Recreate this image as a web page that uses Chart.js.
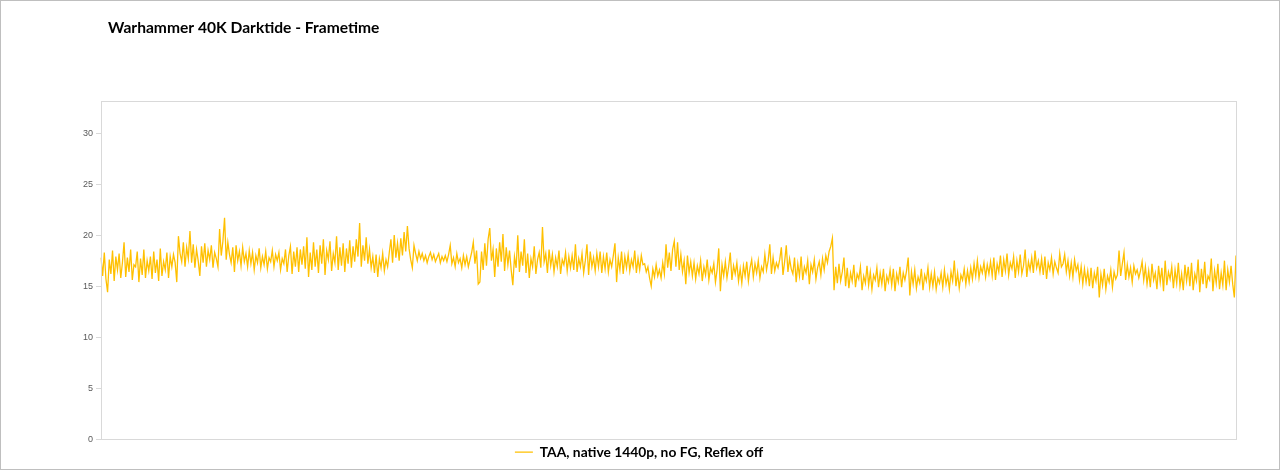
<!DOCTYPE html>
<html lang="en">
<head>
    <meta charset="UTF-8">
    <title>Warhammer 40K Darktide - Frametime</title>
    <style>
        html, body { margin: 0; padding: 0; background: #fff; }
        .frame { width: 1280px; height: 470px; box-sizing: border-box; border: 1px solid #bfbfbf; }
        .frame canvas { display: block; }
    </style>
</head>
<body>
<div class="frame">
    <canvas id="ft-chart" width="1278" height="468"></canvas>
</div>
<script src="https://cdn.jsdelivr.net/npm/chart.js"></script>
<script>
// frametime in ms (roughly one sample per 1.6 px)
const chartTitle = "Warhammer 40K Darktide - Frametime";
const seriesName = "TAA, native 1440p, no FG, Reflex off";
const yTicks = [0, 5, 10, 15, 20, 25, 30];
const frametimes = [
    17.8, 16.0, 18.3, 15.7, 14.4, 17.6, 16.2, 18.5, 15.5, 17.9, 16.6, 18.2, 15.8, 17.3, 19.3, 15.9, 17.8, 16.4, 18.6, 15.6, 17.1, 16.9, 18.4, 15.4, 17.7, 16.1, 18.6, 15.8, 17.5, 16.5,
    17.9, 15.7, 18.4, 16.3, 17.6, 15.5, 18.7, 16.0, 17.4, 16.6, 18.3, 15.8, 17.9, 16.9, 18.1, 17.3, 15.4, 19.9, 18.2, 17.4, 19.3, 16.9, 18.8, 17.7, 20.4, 17.3, 19.1, 16.8, 18.6, 17.5,
    16.0, 18.9, 17.3, 19.2, 16.9, 18.5, 17.6, 19.0, 16.8, 18.3, 17.7, 16.9, 20.6, 18.0, 19.4, 21.7, 17.6, 19.3, 18.1, 17.3, 18.8, 16.4, 19.0, 17.5, 18.4, 17.0, 18.8, 17.4, 18.2, 16.9,
    18.5, 17.2, 18.3, 16.6, 18.0, 17.3, 18.7, 16.8, 17.9, 17.1, 18.4, 16.7, 17.8, 17.4, 18.5, 16.9, 18.1, 17.5, 18.3, 16.6, 17.7, 17.2, 18.6, 16.4, 18.0, 18.9, 16.2, 18.4, 16.9, 18.8,
    16.4, 18.6, 17.1, 18.9, 16.7, 19.8, 15.9, 18.3, 16.6, 19.3, 16.9, 18.6, 16.3, 19.0, 17.2, 19.6, 16.1, 18.5, 17.6, 19.4, 16.5, 18.2, 17.3, 19.9, 16.6, 18.8, 17.0, 19.2, 16.4, 18.7,
    17.2, 19.5, 16.8, 18.9, 17.4, 19.6, 17.9, 21.2, 16.9, 19.0, 17.5, 19.8, 17.2, 18.6, 16.8, 17.9, 16.3, 18.1, 15.9, 17.7, 16.8, 18.2, 16.5, 17.6, 16.9, 18.3, 19.6, 17.3, 20.0, 17.8,
    19.2, 17.5, 19.7, 18.0, 20.3, 18.4, 20.9, 18.7, 17.6, 16.8, 19.0, 18.2, 17.5, 18.4, 17.7, 18.2, 17.5, 18.0, 17.3, 17.9, 18.3, 17.6, 18.1, 17.4, 17.8, 18.2, 17.3, 17.9, 17.5, 18.0,
    17.4, 18.1, 19.0, 17.2, 17.8, 16.9, 18.2, 17.3, 17.7, 16.8, 18.0, 17.1, 17.9, 16.9, 17.6, 18.3, 19.3, 17.2, 18.5, 15.2, 15.4, 18.4, 16.6, 19.2, 17.0, 19.6, 20.7, 17.5, 18.6, 15.9,
    18.7, 16.9, 19.3, 17.4, 20.1, 16.5, 18.8, 17.1, 18.5, 16.6, 15.1, 17.9, 16.8, 20.0, 16.4, 18.4, 17.0, 19.6, 16.3, 18.2, 15.8, 17.7, 16.9, 18.9, 16.2, 17.6, 18.3, 16.8, 20.8, 17.4,
    18.2, 16.3, 18.6, 17.0, 18.1, 16.4, 17.8, 16.9, 18.5, 16.2, 17.6, 17.1, 18.3, 16.5, 17.9, 16.8, 18.0, 16.6, 19.1, 16.4, 17.7, 16.9, 18.2, 16.3, 17.5, 19.1, 16.1, 18.4, 16.9, 17.8,
    16.5, 18.2, 16.9, 18.4, 16.3, 17.9, 16.7, 18.3, 16.4, 17.6, 16.9, 18.0, 19.2, 15.4, 17.8, 16.6, 18.4, 16.2, 17.9, 16.8, 18.1, 16.5, 17.6, 16.9, 18.5, 16.3, 17.7, 16.6, 18.0, 17.1,
    17.2, 16.4, 16.9, 15.8, 15.0, 16.7, 15.9, 17.1, 16.0, 16.6, 15.8, 17.3, 16.2, 19.1, 16.8, 18.3, 16.5, 18.6, 19.4, 16.9, 19.3, 16.6, 18.1, 16.4, 17.5, 15.2, 18.0, 16.3, 17.4, 16.0,
    17.3, 15.7, 17.0, 16.2, 17.5, 15.5, 16.9, 16.1, 17.6, 15.6, 16.8, 16.3, 17.2, 15.4, 16.6, 18.7, 14.5, 17.1, 16.0, 17.4, 15.8, 16.9, 18.3, 15.6, 17.0, 16.2, 17.3, 15.5, 16.7, 15.3,
    17.0, 16.0, 17.4, 15.5, 16.8, 17.6, 15.9, 17.2, 16.3, 17.5, 15.8, 16.9, 16.4, 18.1, 16.6, 17.5, 19.1, 16.2, 17.8, 16.5, 17.3, 16.8, 17.6, 18.8, 16.1, 17.4, 19.0, 16.4, 17.7, 16.7,
    16.2, 17.8, 15.4, 17.2, 16.0, 17.9, 15.6, 16.9, 16.3, 17.5, 15.2, 17.1, 16.4, 17.6, 15.7, 16.8, 17.4, 16.1, 17.7, 16.6, 18.0, 17.3, 18.4, 18.9, 19.7, 14.6, 16.9, 15.3, 17.2, 15.5,
    16.4, 17.8, 15.0, 16.8, 14.8, 16.3, 15.5, 17.1, 14.9, 16.2, 15.7, 16.9, 14.6, 16.0, 15.3, 17.0, 15.1, 16.4, 14.7, 16.1, 15.6, 16.8, 14.9, 16.3, 15.2, 16.7, 14.5, 16.0, 15.4, 16.6,
    15.1, 16.7, 14.5, 16.2, 15.4, 16.9, 14.9, 16.3, 15.6, 16.5, 17.8, 14.1, 16.4, 15.2, 16.6, 14.8, 15.9, 15.3, 16.7, 14.6, 16.1, 15.5, 16.8, 14.9, 16.2, 15.0, 16.4, 14.7, 15.8, 15.3,
    16.3, 14.9, 16.6, 15.2, 16.0, 14.7, 16.4, 15.5, 17.5, 15.0, 16.3, 14.8, 16.1, 15.6, 16.7, 15.2, 16.5, 15.4, 16.8, 15.7, 17.2, 16.0, 17.5, 15.8, 16.9, 16.3, 17.3, 15.9, 17.1, 16.2,
    17.4, 16.0, 17.8, 15.6, 17.2, 16.4, 18.0, 15.9, 17.6, 16.5, 18.2, 16.1, 17.3, 16.7, 17.9, 15.8, 17.5, 16.4, 18.1, 16.2, 17.0, 18.6, 15.9, 17.4, 16.6, 17.8, 16.3, 18.5, 16.8, 17.5,
    16.4, 17.7, 16.1, 17.9, 15.7, 17.3, 16.6, 17.8, 16.2, 17.4, 16.8, 16.3, 18.2, 16.9, 17.2, 18.1, 16.4, 17.5, 16.0, 17.3, 15.9, 17.6, 16.5, 17.1, 15.6, 16.9, 15.2, 16.7, 15.4, 16.5,
    15.0, 16.8, 14.8, 16.3, 15.5, 16.9, 13.9, 16.2, 15.1, 16.7, 14.7, 16.0, 15.4, 16.6, 14.9, 16.4, 15.7, 16.1, 18.5, 16.0, 17.2, 18.3, 15.6, 17.1, 15.9, 16.8, 15.4, 17.0, 16.2, 16.6,
    15.8, 16.5, 17.4, 15.6, 16.9, 15.2, 16.5, 14.9, 17.2, 15.6, 16.3, 14.7, 17.0, 15.4, 16.8, 14.5, 17.5, 15.1, 16.4, 15.7, 16.9, 14.8, 16.6, 15.3, 17.3, 15.0, 16.2, 14.6, 17.1, 15.5,
    16.9, 15.0, 17.3, 14.6, 16.2, 15.5, 17.6, 14.4, 16.7, 15.2, 17.4, 14.8, 16.0, 15.6, 17.7, 14.5, 16.5, 15.3, 17.2, 14.7, 16.3, 15.1, 17.5, 14.6, 16.6, 15.4, 17.0, 15.2, 13.9, 18.0
];
const frameLabels = frametimes.map((_, i) => i + 1);

// title text sits over the plot, left aligned a bit inside the plot edge
const titlePlugin = {
    id: 'sheetTitle',
    afterDraw(chart) {
        const ctx = chart.ctx;
        ctx.save();
        ctx.font = 'bold 15.6px Lato';
        ctx.fillStyle = '#000';
        ctx.textBaseline = 'middle';
        ctx.fillText(chartTitle, 107, 26.5);
        ctx.restore();
    }
};

// thin grey box round the plot area
const plotBorder = {
    id: 'plotBorder',
    afterDraw(chart) {
        const a = chart.chartArea;
        const ctx = chart.ctx;
        ctx.save();
        ctx.strokeStyle = '#d9d9d9';
        ctx.lineWidth = 1;
        ctx.strokeRect(Math.round(a.left) + 0.5, Math.round(a.top) + 0.5,
            Math.round(a.right - a.left), Math.round(a.bottom - a.top));
        ctx.restore();
    }
};

new Chart(document.getElementById('ft-chart'), {
    type: 'line',
    data: {
        labels: frameLabels,
        datasets: [{
            label: seriesName,
            data: frametimes,
            borderColor: '#FFC000',
            backgroundColor: '#FFC000',
            borderWidth: 1.3,
            pointRadius: 0,
            tension: 0
        }]
    },
    options: {
        responsive: false,
        animation: false,
        layout: { padding: { top: 100, right: 43, left: 41, bottom: 0 } },
        plugins: {
            tooltip: { enabled: false },
            legend: {
                position: 'bottom',
                labels: {
                    usePointStyle: true,
                    pointStyle: 'line',
                    pointStyleWidth: 18,
                    boxHeight: 8,
                    padding: 6,
                    color: '#000',
                    font: { family: 'Lato', size: 13.8, weight: 'bold' }
                }
            }
        },
        scales: {
            x: { display: false, offset: false },
            y: {
                min: 0,
                max: 33.15,
                afterFit(scale) { scale.width = 59; },
                afterBuildTicks(scale) {
                    scale.ticks = yTicks.map(v => ({ value: v }));
                },
                grid: { display: true, drawOnChartArea: false, tickLength: 5, color: '#d9d9d9' },
                border: { display: true, color: '#d9d9d9' },
                ticks: {
                    padding: 3,
                    color: '#595959',
                    font: { family: 'Liberation Sans', size: 9 }
                }
            }
        }
    },
    plugins: [titlePlugin, plotBorder]
});
</script>
</body>
</html>
